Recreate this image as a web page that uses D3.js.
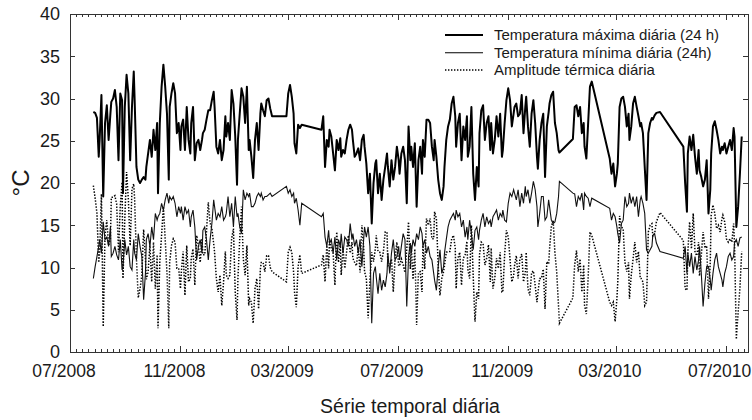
<!DOCTYPE html>
<html><head><meta charset="utf-8">
<script src="https://cdn.jsdelivr.net/npm/d3@7"></script>
<style>body{margin:0;background:#fff}svg{display:block;font-family:Arial,"Liberation Sans",sans-serif}</style>
</head><body><svg id="c" width="752" height="420"></svg>
<script>
// day offsets from 2008-07-01
const dayOffsets = [
26,28,30,32,33,35,37,39,41,43,45,46,48,50,52,54,56,58,59,61,63,65,67,69,71,72,74,76,78,80,82,84,85,87,89,91,93,95,97,98,
100,102,104,106,108,110,111,113,115,117,119,121,123,124,126,128,130,132,134,135,137,139,141,143,145,147,148,150,152,154,
156,158,160,161,163,165,167,169,171,173,174,176,178,180,182,184,186,187,189,191,193,195,197,199,200,202,204,206,208,210,
212,213,215,217,219,221,223,225,241,243,
245,247,249,250,252,254,256,258,
280,282,284,286,288,289,291,293,295,297,299,301,302,304,306,308,310,312,314,315,317,319,321,323,325,327,328,330,332,334,
336,338,340,341,343,345,347,349,351,353,354,356,358,360,362,364,366,367,369,371,373,375,377,379,380,382,384,386,388,390,
392,393,395,397,399,401,403,405,406,408,410,412,414,416,417,419,421,423,425,427,429,430,432,434,436,438,440,442,443,445,
447,449,451,453,455,456,458,460,462,464,466,468,469,471,473,475,477,479,481,482,484,486,488,490,492,494,495,497,499,
501,503,505,507,508,510,512,514,516,518,520,521,523,525,527,529,531,533,534,536,538,540,542,544,545,
560,562,564,566,568,570,572,573,575,577,579,581,
601,603,605,607,609,610,612,614,616,618,620,622,623,625,627,629,631,633,635,636,638,640,642,644,646,648,649,651,653,657,
683,685,687,688,690,692,694,696,698,700,701,703,705,707,709,711,713,714,716,718,720,722,724,726,727,729,731,733,735,737,
739,740,742,744,746,748
];
const tMax = [
28.4,28.3,27.7,23.1,25.1,30.4,18.4,27.1,29.2,25.1, 28.2,29.6,30.0,31.0,29.0,22.7,30.6,29.8,18.8,29.0,
32.8,30.6,22.7,29.0,33.2,29.8,21.9,20.4,20.0,20.4, 20.7,20.4,21.9,23.5,25.1,23.1,26.3,23.9,27.1,18.8,
27.1,31.4,34.0,31.4,28.2,20.4,29.0,30.6,31.8,30.6, 25.9,27.1,23.9,26.7,27.5,23.9,29.0,25.1,23.5,27.1,
29.0,22.7,24.7,25.1,23.9,25.1,25.9,26.3,27.5,28.6, 28.6,29.8,30.8,29.0,24.3,23.5,25.1,22.7,23.9,27.9,
25.5,27.1,25.1,31.0,29.4,25.5,19.8,25.1,28.2,31.2, 30.2,27.1,31.4,23.9,25.1,23.1,20.6,25.1,27.1,23.9,
28.2,29.4,28.6,27.9,29.8,30.0,28.8,27.9, 27.9,30.6,
31.6,30.2,28.2,24.7,23.5,26.9,26.5,26.9,
26.3,27.9,21.9,25.1,24.3,26.3,25.5,23.5,21.5,25.1, 23.9,25.3,23.1,23.9,23.5,25.1,26.3,26.9,26.3,25.1,
23.1,23.5,24.1,22.7,25.1,25.7,24.3,22.3,18.8,21.1, 15.2,20.0,22.3,22.7,18.8,21.1,18.0,20.4,21.9,23.5,
21.9,19.6,22.7,20.4,21.9,24.3,22.7,21.1,23.5,24.3, 22.7,17.6,26.7,22.7,24.3,21.9,24.7,17.2,22.7,24.3,
21.1,25.1,23.1,27.5,27.5,27.1,24.3,22.7,25.1,23.1, 20.4,18.8,18.0,19.6,21.9,25.1,26.7,27.5,29.4,30.2,
27.9,24.3,27.1,28.2,22.7,26.7,25.1,27.9,23.1,24.3, 29.0,21.1,18.0,21.9,19.6,25.9,28.6,29.2,25.1,27.1,
27.9,23.9,27.1,23.5,25.1,27.9,25.5,28.2,23.1,23.9, 27.1,29.8,31.2,29.8,26.7,28.2,29.0,29.4,27.9,
28.2,30.4,25.9,29.0,30.2,26.7,24.3,28.2,29.8,27.1, 23.1,21.7,25.1,27.1,28.2,20.7,26.7,28.4,29.4,30.4,
30.8,27.1,25.9,23.9,23.6,
25.2,29.0,29.2,27.9,29.0,25.9,27.1,24.3,22.9,27.1,31.4,32.0,
22.9,21.1,22.3,19.6,21.1,22.3,29.0,30.0,30.2,29.0, 26.7,28.2,25.1,26.7,29.4,30.2,29.0,27.9,26.7,27.1,
25.9,21.9,18.0,25.9,27.1,27.7,27.5,28.0,28.3,28.4,
24.3,20.0,16.6,23.5,25.5,23.9,25.7,23.1,21.1,23.9, 21.5,20.7,19.6,20.4,22.7,16.4,19.2,23.5,26.7,27.3,
26.3,25.1,23.5,24.3,23.9,24.7,23.5,24.3,25.1,23.9, 26.5,25.5,14.8,17.2,21.1,25.5
];
const tMin = [
8.7,10.1,11.3,12.5,13.3,11.7,15.4,13.3,13.6,12.5, 14.8,11.3,11.7,12.5,11.5,10.9,13.3,9.7,10.1,13.3,
11.5,12.5,10.1,9.7,13.3,11.7,10.9,14.0,12.5,11.3, 6.2,9.3,13.3,14.0,12.5,14.8,13.3,16.4,15.6,16.0,
16.4,17.6,16.8,18.0,18.8,17.6,18.4,18.0,18.4,17.6, 16.0,17.2,16.4,17.2,15.6,17.2,16.4,16.8,14.8,16.0,
16.8,14.8,10.9,12.5,13.3,11.7,14.4,14.8,13.3,10.9, 13.3,15.2,18.0,17.2,15.6,16.4,16.0,17.2,15.6,16.0,
16.4,18.4,16.0,17.6,14.8,18.4,16.0,16.4,14.8,14.0, 19.2,18.0,18.8,18.4,18.8,17.2,17.2,17.6,18.4,18.8,
18.4,18.8,18.0,18.4,18.4,18.6,18.8,18.4, 19.6,18.8,
19.2,18.4,18.8,17.6,18.2,16.8,15.0,17.6,
16.0,16.4,13.6,12.5,14.4,12.9,13.3,11.7,13.6,10.9, 13.3,12.5,14.0,11.7,13.6,13.3,12.5,15.2,13.3,14.0,
12.5,13.3,11.7,13.3,10.1,13.3,14.8,13.6,14.8,12.5, 3.4,9.3,10.1,8.9,6.9,9.3,7.3,8.5,7.7,9.3,
11.7,9.3,11.7,13.3,10.9,11.3,12.5,10.9,12.5,14.0, 13.3,5.4,11.3,12.9,11.7,13.3,12.5,14.0,13.3,14.8,
14.0,12.5,13.3,11.7,12.5,11.3,10.9,9.3,8.5,7.3, 10.1,12.1,9.3,10.1,11.7,13.3,14.8,15.6,16.0,16.4,
15.6,16.8,16.0,16.4,14.8,15.6,13.6,14.8,13.3,15.6, 14.0,12.1,14.4,14.8,13.3,14.4,15.6,16.4,14.8,16.0,
15.2,15.6,14.8,16.0,16.4,16.8,15.6,16.4,16.0,16.8, 15.6,15.4,17.6,18.8,18.4,19.2,18.8,18.0,19.2,
17.2,18.8,17.6,19.6,18.4,19.2,17.6,18.8,20.2,19.2, 17.2,14.8,16.4,18.4,18.4,15.6,16.0,18.0,17.2,15.6,
15.2,15.4,16.4,18.4,20.2,
18.8,18.7,17.2,18.4,18.0,18.8,16.8,18.8,18.4,18.2,17.2,18.2,
17.0,15.6,16.4,16.0,14.8,14.0,12.9,15.2,15.6,18.4, 17.2,17.6,18.8,17.6,18.4,17.2,18.4,16.0,18.0,18.4,
17.6,16.4,12.1,11.7,12.1,12.5,13.8,14.0,12.9,11.9,
11.1,12.5,9.3,11.7,10.1,11.7,9.3,11.3,9.7,10.9, 12.5,9.3,5.4,8.1,10.1,10.1,8.5,7.3,9.3,10.9,
11.7,10.1,9.3,8.5,7.7,9.3,10.1,11.3,11.7,10.9, 11.3,12.9,13.3,12.5,13.5,13.6
];
const amplitude = [
19.7,18.2,16.4,10.6,11.8,18.7,3.0,13.8,15.6,12.6, 13.4,18.3,18.3,18.5,17.5,11.8,17.3,20.1,8.7,15.7,
21.3,18.1,12.6,19.3,19.9,18.1,11.0,6.4,7.5,9.1, 14.5,11.1,8.6,9.5,12.6,8.3,13.0,7.5,11.5,2.8,
10.7,13.8,17.2,13.4,9.4,2.8,10.6,12.6,13.4,13.0, 9.9,9.9,7.5,9.5,11.9,6.7,12.6,8.3,8.7,11.1,
12.2,7.9,13.8,12.6,10.6,13.4,11.5,11.5,14.2,17.7, 15.3,14.6,12.8,11.8,8.7,7.1,9.1,5.5,8.3,11.9,
9.1,8.7,9.1,13.4,14.6,7.1,3.8,8.7,13.4,17.2, 11.0,9.1,12.6,5.5,6.3,5.9,3.4,7.5,8.7,5.1,
9.8,10.6,10.6,9.5,11.4,11.4,10.0,9.5, 8.3,11.8,
12.4,11.8,9.4,7.1,5.3,10.1,11.5,9.3,
10.3,11.5,8.3,12.6,9.9,13.4,12.2,11.8,7.9,14.2, 10.6,12.8,9.1,12.2,9.9,11.8,13.8,11.7,13.0,11.1,
10.6,10.2,12.4,9.4,15.0,12.4,9.5,8.7,4.0,8.6, 11.8,10.7,12.2,13.8,11.9,11.8,10.7,11.9,14.2,14.2,
10.2,10.3,11.0,7.1,11.0,13.0,10.2,10.2,11.0,10.3, 9.4,12.2,15.4,9.8,12.6,8.6,12.2,3.2,9.4,9.5,
7.1,12.6,9.8,15.8,15.0,15.8,13.4,13.4,16.6,15.8, 10.3,6.7,8.7,9.5,10.2,11.8,11.9,11.9,13.4,13.8,
12.3,7.5,11.1,11.8,7.9,11.1,11.5,13.1,9.8,8.7, 15.0,9.0,3.6,7.1,6.3,11.5,13.0,12.8,10.3,11.1,
12.7,8.3,12.3,7.5,8.7,11.1,9.9,11.8,7.1,7.1, 11.5,14.4,13.6,11.0,8.3,9.0,10.2,11.4,8.7,
11.0,11.6,8.3,9.4,11.8,7.5,6.7,9.4,9.6,7.9, 5.9,6.9,8.7,8.7,9.8,5.1,10.7,10.4,12.2,14.8,
15.6,11.7,9.5,5.5,3.4,
6.4,10.3,12.0,9.5,11.0,7.1,10.3,5.5,4.5,8.9,14.2,13.8,
5.9,5.5,5.9,3.6,6.3,8.3,16.1,14.8,14.6,10.6, 9.5,10.6,6.3,9.1,11.0,13.0,10.6,11.9,8.7,8.7,
8.3,5.5,5.9,14.2,15.0,15.2,13.7,14.0,15.4,16.5,
13.2,7.5,7.3,11.8,15.4,12.2,16.4,11.8,11.4,13.0, 9.0,11.4,14.2,12.3,12.6,6.3,10.7,16.2,17.4,16.4,
14.6,15.0,14.2,15.8,16.2,15.4,13.4,13.0,13.4,13.0, 15.2,12.6,1.5,4.7,7.6,11.9
];
const xTickDates = ["2008-07-01","2008-11-01","2009-03-01","2009-07-01","2009-11-01","2010-03-01","2010-07-01"];
const xTickLabels = ["07/2008","11/2008","03/2009","07/2009","11/2009","03/2010","07/2010"];
const yTicks = [0,5,10,15,20,25,30,35,40];
const seriesNames = ["Temperatura máxima diária (24 h)","Temperatura mínima diária (24h)","Amplitude térmica diária"];
const xTitle = "Série temporal diária";
const yTitle = "°C";

const DAY = 864e5;
const base = Date.UTC(2008,6,1);
const dates = dayOffsets.map(d => new Date(base + d*DAY));
const L = 70, R = 748, T = 14, B = 352;
const x = d3.scaleUtc().domain([new Date(base), new Date(base + 755*DAY)]).range([L, R]);
const y = d3.scaleLinear().domain([0,40]).range([B, T]);

const svg = d3.select("#c");
svg.append("rect").attr("width",752).attr("height",420).attr("fill","#fff");

const mk = arr => d3.line().x((d,i)=>x(dates[i])).y((d,i)=>y(arr[i]))(arr);
const DOT = "1.4,1.6";
const g = svg.append("g");
g.append("path").attr("d", mk(amplitude)).attr("fill","none").attr("stroke","#000")
  .attr("stroke-width",1.5).attr("stroke-dasharray",DOT);
g.append("path").attr("d", mk(tMin)).attr("fill","none").attr("stroke","#111").attr("stroke-width",1.1);
g.append("path").attr("d", mk(tMax)).attr("fill","none").attr("stroke","#000").attr("stroke-width",2)
  .attr("stroke-linejoin","round");

// frame
const ax = svg.append("g").attr("stroke","#333").attr("fill","none").attr("shape-rendering","crispEdges");
ax.append("rect").attr("x",L+0.5).attr("y",T+0.5).attr("width",R-L).attr("height",B-T);

// x ticks
const majors = xTickDates.map(s => new Date(s+"T00:00:00Z"));
const minors = [];
for (let i=0;i<majors.length-1;i++){
  const a=+majors[i], b=+majors[i+1];
  for (let k=1;k<18;k++) minors.push(a+(b-a)*k/18);
}
{ const a=+majors[majors.length-2], b=+majors[majors.length-1], st=(b-a)/18;
  for (let t=b+st; x(new Date(t))<R-1; t+=st) minors.push(t); }
minors.forEach(t=>{
  const px=Math.round(x(new Date(t)))+0.5;
  ax.append("line").attr("x1",px).attr("x2",px).attr("y1",B).attr("y2",B-3);
  ax.append("line").attr("x1",px).attr("x2",px).attr("y1",T).attr("y2",T+3);
});
majors.forEach(t=>{
  const px=Math.round(x(t))+0.5;
  ax.append("line").attr("x1",px).attr("x2",px).attr("y1",B).attr("y2",B-6);
  ax.append("line").attr("x1",px).attr("x2",px).attr("y1",T).attr("y2",T+6);
});
yTicks.forEach(v=>{
  const py=Math.round(y(v))+0.5;
  ax.append("line").attr("x1",L).attr("x2",L+5).attr("y1",py).attr("y2",py);
  ax.append("line").attr("x1",R).attr("x2",R-5).attr("y1",py).attr("y2",py);
});

// labels
const tl = svg.append("g").attr("fill","#1a1a1a").attr("font-size",17.5);
xTickLabels.forEach((s,i)=>{
  tl.append("text").attr("x",x(majors[i])-6).attr("y",377).attr("text-anchor","middle").text(s);
});
yTicks.forEach(v=>{
  tl.append("text").attr("x",60).attr("y",y(v)).attr("dy","0.35em").attr("text-anchor","end").attr("font-size",18).text(v);
});
svg.append("text").attr("x",410).attr("y",413).attr("text-anchor","middle").attr("font-size",19.5)
  .attr("fill","#1a1a1a").text(xTitle);
svg.append("text").attr("transform","translate(29,183) rotate(-90)").attr("text-anchor","middle")
  .attr("font-size",24).attr("fill","#1a1a1a").text(yTitle);

// legend
const lg = svg.append("g");
const rows = [35, 52.7, 70];
const styles = [{w:2,d:null},{w:1.1,d:null},{w:1.5,d:DOT}];
seriesNames.forEach((s,i)=>{
  const ln = lg.append("line").attr("x1",445).attr("x2",483).attr("y1",rows[i]).attr("y2",rows[i])
    .attr("stroke","#000").attr("stroke-width",styles[i].w);
  if (styles[i].d) ln.attr("stroke-dasharray",styles[i].d);
  lg.append("text").attr("x",494).attr("y",rows[i]).attr("dy","0.35em").attr("font-size",15)
    .attr("fill","#1a1a1a").text(s);
});
</script></body></html>
